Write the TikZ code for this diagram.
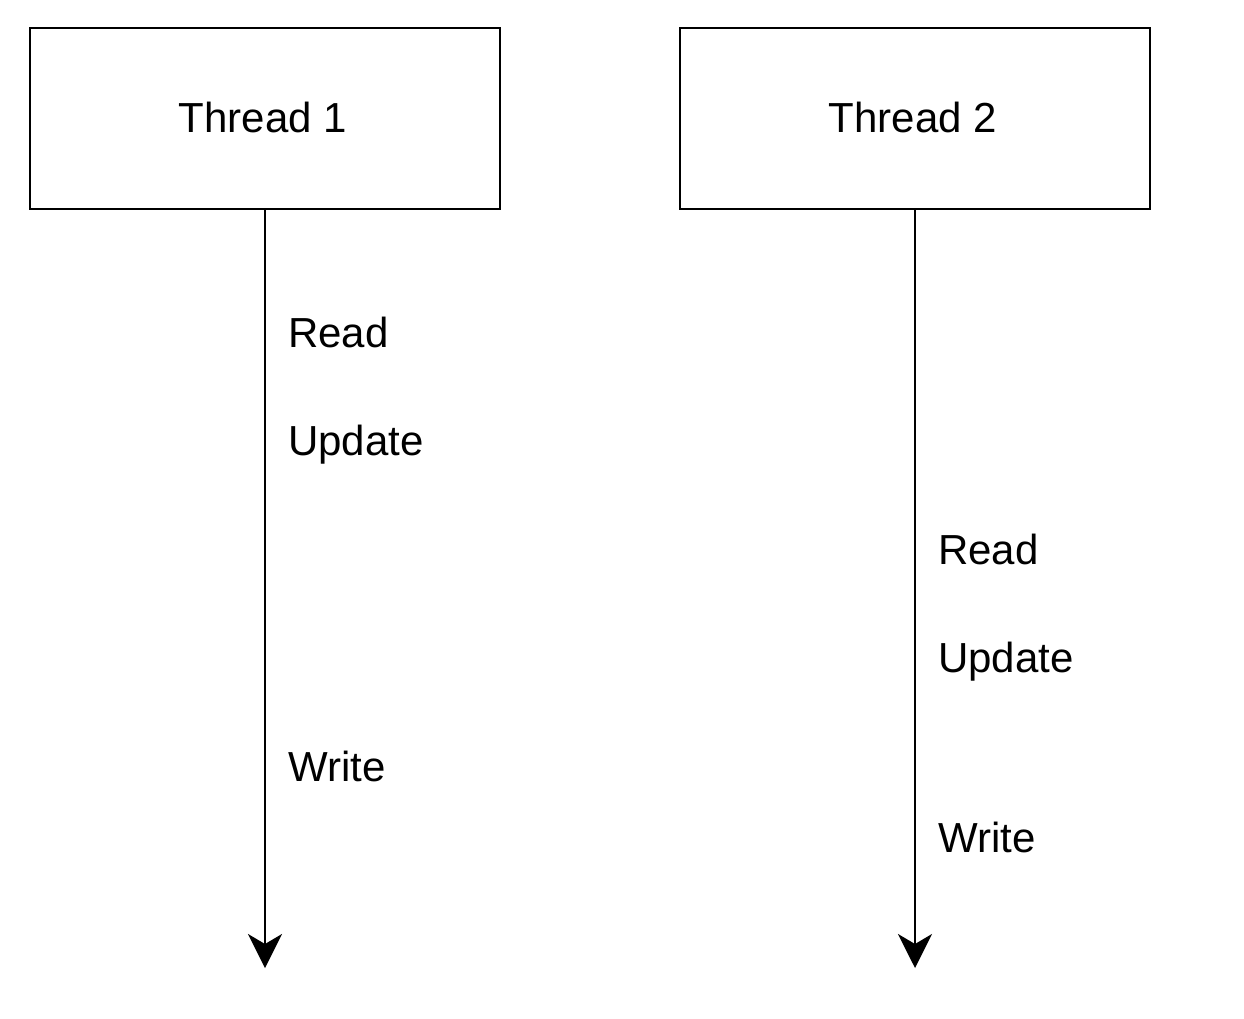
\documentclass[tikz,border=0pt]{standalone}
\usepackage{fontspec}
\setmainfont{Liberation Sans}
\usetikzlibrary{arrows.meta}
\begin{document}
\begin{tikzpicture}[x=1pt,y=-1pt,
  threadbox/.style={draw, line width=2.4pt, minimum width=470pt, minimum height=181pt, inner sep=0pt},
  timeline/.style={line width=2.4pt, -{Stealth[length=34pt, width=34pt, inset=10pt]}},
  lbl/.style={anchor=base west, inner sep=0pt, font=\fontsize{42}{50}\selectfont},
  title/.style={anchor=base, inner sep=0pt, font=\fontsize{42}{50}\selectfont}]
\useasboundingbox (0,0) rectangle (1244,1018);
\node[threadbox] (b1) at (265,118.5) {};
\node[threadbox] (b2) at (915,118.5) {};
\node[title] (t1) at (263,132) {Thread 1};
\node[title] (t2) at (913,132) {Thread 2};
\coordinate (e1) at (265,968);
\coordinate (e2) at (915,968);
\draw[timeline] (b1.south) -- (e1);
\draw[timeline] (b2.south) -- (e2);
\node[lbl] (r1) at (288,347) {Read};
\node[lbl] (u1) at (288,455) {Update};
\node[lbl] (w1) at (288,781) {Write};
\node[lbl] (r2) at (938,564) {Read};
\node[lbl] (u2) at (938,672) {Update};
\node[lbl] (w2) at (938,852) {Write};
\end{tikzpicture}
\end{document}
